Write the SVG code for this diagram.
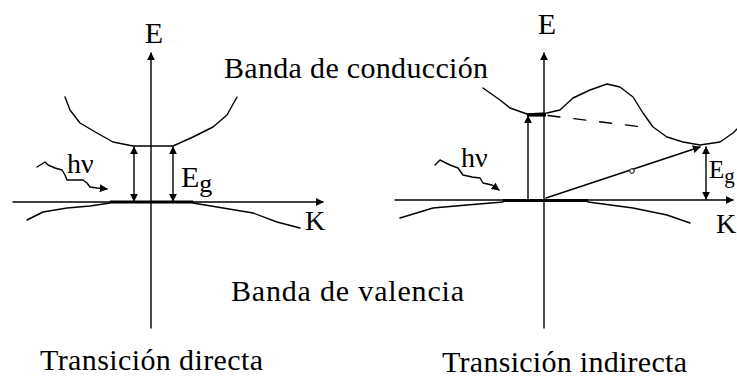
<svg xmlns="http://www.w3.org/2000/svg" width="737" height="379" viewBox="0 0 737 379">
<style>
.ln{fill:none;stroke:#000;stroke-width:1.4;stroke-linejoin:round;stroke-linecap:round}
.th{fill:none;stroke:#000;stroke-width:3.2}
.tx{font-family:"Liberation Serif","Times New Roman",serif;fill:#000}
</style>
<defs>
<marker id="ah" viewBox="0 0 10 10" refX="9" refY="5" markerWidth="8" markerHeight="8" markerUnits="userSpaceOnUse" orient="auto-start-reverse">
<path d="M0,0 L10,5 L0,10 Z" fill="#000"/>
</marker>
</defs>
<rect width="737" height="379" fill="#fff"/>

<g id="left-diagram">
  <g id="left-axes">
    <line class="ln" x1="151" y1="328" x2="151" y2="53" marker-end="url(#ah)"/>
    <line class="ln" x1="13" y1="202" x2="323" y2="202" marker-end="url(#ah)"/>
    <text class="tx" x="154" y="43" font-size="30" text-anchor="middle">E</text>
    <text class="tx" x="305" y="230" font-size="28">K</text>
  </g>
  <g id="left-conduction">
    <polyline class="ln" points="65,97 70,110 80,123 97,133 113,142 133,146 173,146 193,137 213,127 227,115 237,97"/>
  </g>
  <g id="left-valence">
    <polyline class="ln" points="27,220 43,212 67,208 90,206 110,203"/>
    <line class="th" x1="110" y1="202" x2="193" y2="202"/>
    <polyline class="ln" points="193,203 223,208 253,213 277,222 300,228"/>
  </g>
  <g id="left-transition">
    <line class="ln" x1="134" y1="147" x2="134" y2="201" marker-start="url(#ah)" marker-end="url(#ah)"/>
    <line class="ln" x1="173" y1="147" x2="173" y2="201" marker-start="url(#ah)" marker-end="url(#ah)"/>
    <text class="tx" x="181" y="187" font-size="30">E<tspan font-size="26" dy="5">g</tspan></text>
  </g>
  <g id="left-photon">
    <polyline class="ln" points="37,167 45,162 48,165 55,168 62,170 65,175 67,180 83,180 87,183 90,187 97,188 107,189" marker-end="url(#ah)"/>
    <text class="tx" x="67" y="173" font-size="28">hν</text>
  </g>
</g>

<g id="right-diagram">
  <g id="right-axes">
    <line class="ln" x1="544" y1="328" x2="544" y2="53" marker-end="url(#ah)"/>
    <line class="ln" x1="395" y1="200" x2="733" y2="200" marker-end="url(#ah)"/>
    <text class="tx" x="547" y="34" font-size="30" text-anchor="middle">E</text>
    <text class="tx" x="716" y="233" font-size="28">K</text>
  </g>
  <g id="right-conduction">
    <polyline class="ln" points="483,88 500,100 510,108 527,114 547,113 560,110 573,98 590,90 607,84 620,87 633,97 643,113 653,127 667,137 683,142 700,145 720,142 733,133 737,129"/>
    <line class="th" x1="527" y1="115" x2="546" y2="115"/>
    <line class="ln" x1="548" y1="115.5" x2="647" y2="127.5" stroke-dasharray="12 14" stroke-width="1.8"/>
  </g>
  <g id="right-valence">
    <polyline class="ln" points="400,218 433,208 467,205 503,202"/>
    <line class="th" x1="503" y1="200.5" x2="588" y2="200.5"/>
    <polyline class="ln" points="588,202 633,208 667,215 690,223"/>
  </g>
  <g id="right-transition">
    <line class="ln" x1="528" y1="199" x2="528" y2="116" marker-end="url(#ah)"/>
    <line class="ln" x1="546" y1="198" x2="700" y2="147" marker-end="url(#ah)"/>
    <circle cx="632" cy="171" r="2.3" fill="#fff" stroke="#000" stroke-width="1"/>
    <line class="ln" x1="706" y1="147" x2="706" y2="199" marker-start="url(#ah)" marker-end="url(#ah)"/>
    <text class="tx" x="709" y="178" font-size="25">E<tspan font-size="21" dy="5">g</tspan></text>
  </g>
  <g id="right-photon">
    <polyline class="ln" points="435,165 440,160 450,165 458,168 463,175 472,177 480,178 483,183 492,185 499,190" marker-end="url(#ah)"/>
    <text class="tx" x="461" y="167" font-size="28">hν</text>
  </g>
</g>

<g id="labels">
  <text class="tx" x="224" y="78" font-size="30" textLength="264" lengthAdjust="spacing">Banda de conducción</text>
  <text class="tx" x="231" y="301" font-size="30" textLength="233" lengthAdjust="spacing">Banda de valencia</text>
  <text class="tx" x="40" y="370" font-size="30" textLength="223" lengthAdjust="spacing">Transición directa</text>
  <text class="tx" x="442" y="372" font-size="30" textLength="245" lengthAdjust="spacing">Transición indirecta</text>
</g>
</svg>
